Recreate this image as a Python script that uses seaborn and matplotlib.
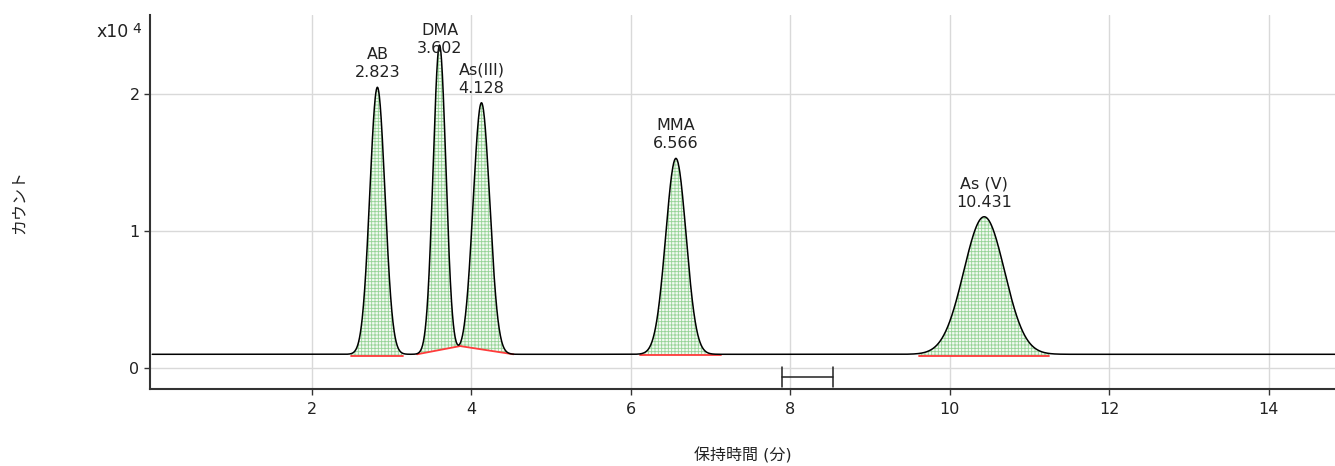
import numpy as np
import pandas as pd
import matplotlib
matplotlib.use("Agg")
import matplotlib.pyplot as plt
import seaborn as sns

# Peak table (retention time in min, apex height in counts, width sigma in min)
peak_names = ["AB", "DMA", "As(III)", "MMA", "As (V)"]
retention_times = [2.823, 3.602, 4.128, 6.566, 10.431]
apex_heights = [20490, 23570, 19360, 15300, 11040]
peak_sigmas = [0.095, 0.08, 0.104, 0.128, 0.255]
baseline_counts = 1000

# Integration baselines (red) for each peak
seg_start = [2.49, 3.32, 3.86, 6.12, 9.61]
seg_end = [3.14, 3.86, 4.53, 7.13, 11.25]
seg_level_start = [880, 1000, 1600, 950, 880]
seg_level_end = [880, 1600, 1000, 950, 880]

# Time-window bracket below the trace
window_start, window_end = 7.89, 8.54

x_ticks = [2, 4, 6, 8, 10, 12, 14]
y_ticks = [0, 10000, 20000]
y_tick_labels = ["0", "1", "2"]

sns.set_theme(style="whitegrid")
plt.rcParams["font.family"] = ["DejaVu Sans", "Noto Sans CJK JP"]
plt.rcParams["hatch.linewidth"] = 0.6

fig = plt.figure(figsize=(13.35, 4.66), dpi=100)
ax = fig.add_axes([150 / 1335, 1 - 389 / 466, 1185 / 1335, 374 / 466])

t = np.linspace(0.0, 14.83, 4000)
signal = np.full_like(t, float(baseline_counts))
for rt, h, s in zip(retention_times, apex_heights, peak_sigmas):
    signal += (h - baseline_counts) * np.exp(-0.5 * ((t - rt) / s) ** 2)
trace = pd.DataFrame({"time": t, "counts": signal})

# Shaded peak areas over their integration baselines
for a, b, la, lb in zip(seg_start, seg_end, seg_level_start, seg_level_end):
    m = (t >= a) & (t <= b)
    base = la + (lb - la) * (t[m] - a) / (b - a)
    ax.fill_between(t[m], base, signal[m], where=signal[m] >= base,
                    facecolor="#f2faf2", edgecolor="#96d396", hatch="+++++",
                    linewidth=0, zorder=2)
    ax.plot([a, b], [la, lb], color="#ff3b3b", lw=1.3, zorder=3)

sns.lineplot(data=trace, x="time", y="counts", color="black", lw=1.1,
             estimator=None, ax=ax, zorder=4)

# Peak labels: name and retention time
label_offsets = [5, -8, 5, 5, 5]
for name, rt, h, off in zip(peak_names, retention_times, apex_heights, label_offsets):
    ax.annotate(f"{name}\n{rt:.3f}", xy=(rt, h), xytext=(0, off),
                textcoords="offset points", ha="center", va="bottom",
                fontsize=11.5, color="#222222", linespacing=1.25, zorder=5)

# Bracket for the time window
wy, wt, wb = -660, 70, -1390
ax.plot([window_start, window_end], [wy, wy], color="#222222", lw=1.1, zorder=4)
for xw in (window_start, window_end):
    ax.plot([xw, xw], [wt, wb], color="#222222", lw=1.1, zorder=4)

ax.set_xlim(-0.028, 14.83)
ax.set_ylim(-1533, 25766)
ax.set_xticks(x_ticks)
ax.set_xticklabels([str(v) for v in x_ticks])
ax.set_yticks(y_ticks)
ax.set_yticklabels(y_tick_labels)

ax.grid(True, color="#d9d9d9", lw=1.0)
ax.set_facecolor("white")
for side in ("top", "right"):
    ax.spines[side].set_visible(False)
for side in ("left", "bottom"):
    ax.spines[side].set_visible(True)
    ax.spines[side].set_color("#333333")
    ax.spines[side].set_linewidth(1.5)

ax.tick_params(axis="both", which="major", labelsize=11.5, labelcolor="#222222",
               color="#333333", length=4.5, width=1.0, direction="out")
ax.tick_params(axis="x", pad=5)
ax.tick_params(axis="y", pad=3)
ax.xaxis.set_ticks_position("bottom")
ax.yaxis.set_ticks_position("left")

ax.set_xlabel("保持時間 (分)", fontsize=11.5, color="#222222")
ax.set_ylabel("カウント", fontsize=11.5, color="#222222")
ax.xaxis.set_label_coords(0.5, -0.155)
ax.yaxis.set_label_coords(-0.104, 0.5)

fig.text(96 / 1335, 1 - 32 / 466, "x10", fontsize=12.5, color="#222222",
         ha="left", va="center")
fig.text(132 / 1335, 1 - 29 / 466, "4", fontsize=10, color="#222222",
         ha="left", va="center")

fig.savefig("out.png", dpi=100, facecolor="white")
